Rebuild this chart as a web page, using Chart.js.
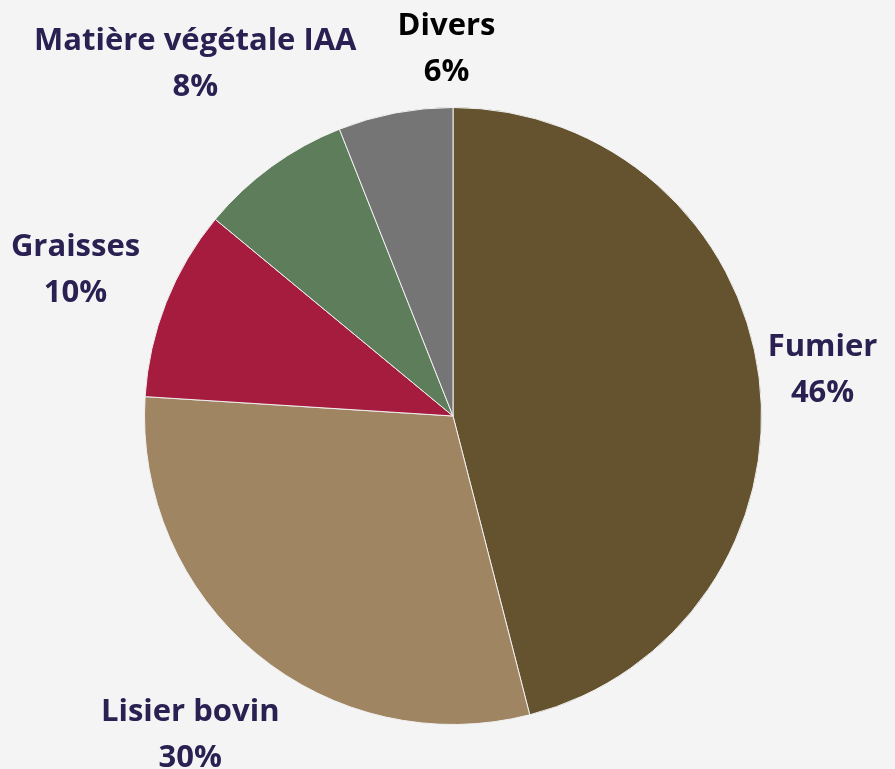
<!DOCTYPE html>
<html>
<head>
<meta charset="utf-8">
<script src="https://cdn.jsdelivr.net/npm/chart.js@4"></script>
<style>
html,body{margin:0;padding:0;background:#f4f4f4;}
#wrap{width:895px;height:769px;}
</style>
</head>
<body>
<div id="wrap"><canvas id="c" width="895" height="769"></canvas></div>
<script>
const labels=["Fumier","Lisier bovin","Graisses","Matière végétale IAA","Divers"];
const values=[46,30,10,8,6];
const colors=["#64532e","#a08563","#a51c3e","#5e7e5b","#757575"];
const labelColors=["#2a2152","#2a2152","#2a2152","#2a2152","#000000"];
// small hand nudges so the labels sit where the reference puts them
const nudge=[[-5,1],[-2,4],[-11,-1],[6,11],[63,-3]];

const outsideLabels={
 id:"outsideLabels",
 afterDatasetsDraw(chart){
  const ctx=chart.ctx,meta=chart.getDatasetMeta(0);
  ctx.save();
  ctx.font="bold 31px 'Open Sans'";
  ctx.textAlign="center";ctx.textBaseline="middle";
  meta.data.forEach((arc,i)=>{
   const p=arc.getProps(["x","y","startAngle","endAngle","outerRadius"],true);
   const a=(p.startAngle+p.endAngle)/2;
   const l1=labels[i],l2=values[i]+"%";
   const w=Math.max(ctx.measureText(l1).width,ctx.measureText(l2).width),h=90;
   const ext=Math.abs(w/2*Math.cos(a))+Math.abs(h/2*Math.sin(a));
   const d=p.outerRadius+9+ext;
   const cx=p.x+Math.cos(a)*d+nudge[i][0],cy=p.y+Math.sin(a)*d+nudge[i][1];
   ctx.fillStyle=labelColors[i];
   ctx.fillText(l1,cx,cy-23);
   ctx.fillText(l2,cx,cy+23);
  });
  ctx.restore();
 }
};

new Chart(document.getElementById("c"),{
 type:"pie",
 data:{labels,datasets:[{data:values,backgroundColor:colors,borderColor:"#f0f0f0",borderWidth:1}]},
 options:{
  responsive:false,animation:false,
  layout:{padding:{top:107,bottom:44,left:11,right:0}},
  plugins:{legend:{display:false},tooltip:{enabled:false}}
 },
 plugins:[outsideLabels]
});
</script>
</body>
</html>
